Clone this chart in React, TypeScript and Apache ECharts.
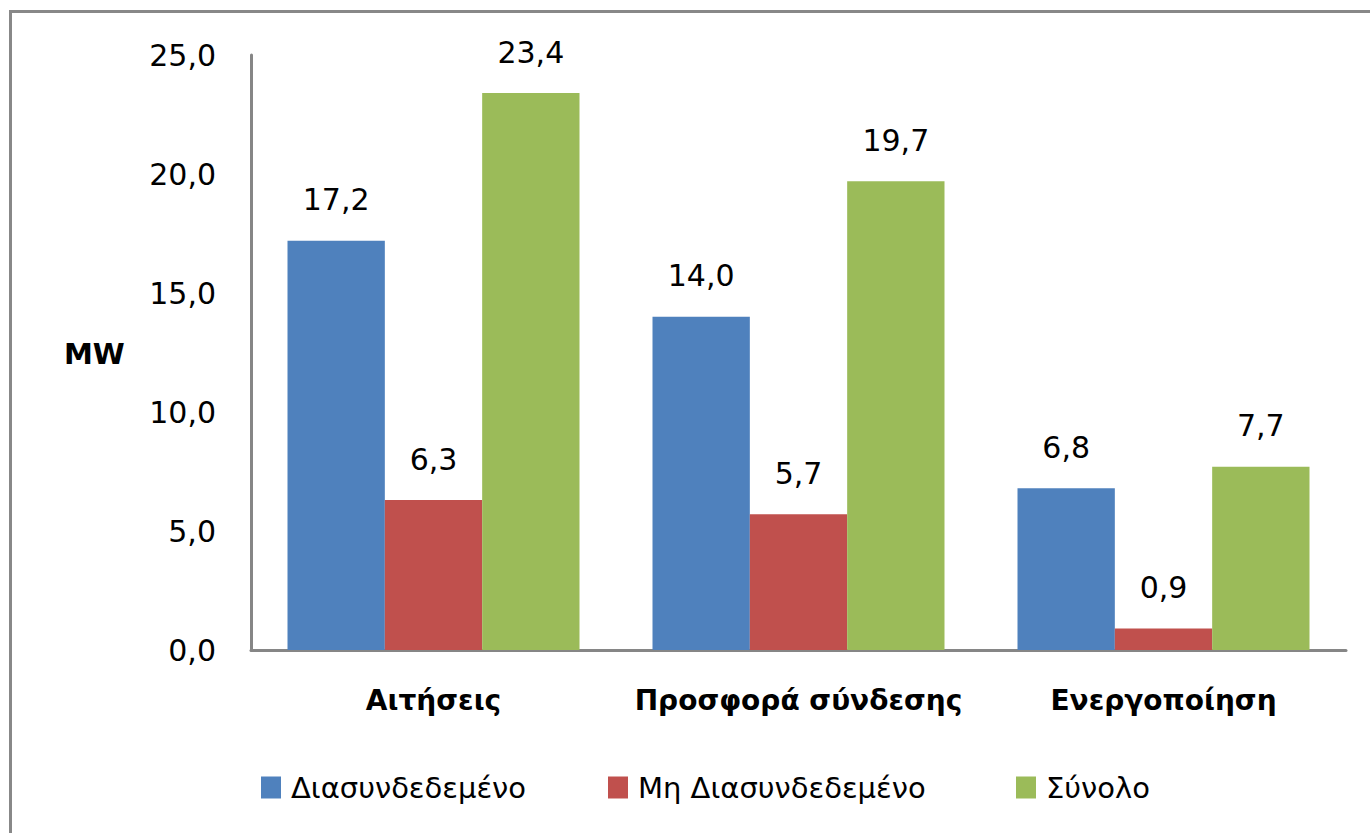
import React, { useEffect, useRef } from "react";
import * as echarts from "echarts";

const categories = ["Αιτήσεις", "Προσφορά σύνδεσης", "Ενεργοποίηση"];
const seriesNames = ["Διασυνδεδεμένο", "Μη Διασυνδεδεμένο", "Σύνολο"];
const connected = [17.2, 14.0, 6.8];
const notConnected = [6.3, 5.7, 0.9];
const total = [23.4, 19.7, 7.7];
const colors = ["#4F81BD", "#C0504D", "#9BBB59"];
const yTicks = { min: 0, max: 25, interval: 5 };

const FONT = "DejaVu Sans";
const fmt = (v: number) => v.toFixed(1).replace(".", ",");
const legendLefts = [256, 603, 1011];

export default function App() {
  const ref = useRef<HTMLDivElement>(null);
  useEffect(() => {
    const chart = echarts.init(ref.current!, undefined, { renderer: "svg" });
    const data = [connected, notConnected, total];
    chart.setOption({
      animation: false,
      textStyle: { fontFamily: FONT },
      graphic: [
        {
          type: "rect",
          shape: { x: 10.5, y: 11.5, width: 1500, height: 1000 },
          style: { fill: "none", stroke: "#888888", lineWidth: 3 },
        },
        {
          type: "text",
          left: 64,
          top: 339,
          style: { text: "MW", font: `bold 29px "${FONT}"`, fill: "#000" },
        },
      ],
      grid: { left: 251, right: 24, top: 55, bottom: 183, containLabel: false },
      legend: seriesNames.map((n, i) => ({
        left: legendLefts[i],
        top: 768,
        itemWidth: 20,
        itemHeight: 22,
        icon: "rect",
        textStyle: { fontFamily: FONT, fontSize: 29, color: "#000", padding: [0, 0, 0, 5] },
        data: [n],
      })),
      xAxis: {
        type: "category",
        data: categories,
        axisLine: { lineStyle: { color: "#868686", width: 3 } },
        axisTick: { show: false },
        axisLabel: {
          interval: 0,
          color: "#000",
          fontFamily: FONT,
          fontSize: 28,
          fontWeight: "bold",
          margin: 36,
        },
      },
      yAxis: {
        type: "value",
        min: yTicks.min,
        max: yTicks.max,
        interval: yTicks.interval,
        axisLine: { show: true, lineStyle: { color: "#868686", width: 3 } },
        axisTick: { show: false },
        splitLine: { show: false },
        axisLabel: {
          color: "#000",
          fontFamily: FONT,
          fontSize: 30,
          margin: 35,
          formatter: (v: number) => fmt(v),
        },
      },
      series: seriesNames.map((name, i) => ({
        name,
        type: "bar",
        data: data[i],
        barGap: "0%",
        barCategoryGap: "20%",
        itemStyle: { color: colors[i] },
        label: {
          show: true,
          position: "top",
          distance: 26,
          color: "#000",
          fontFamily: FONT,
          fontSize: 30,
          formatter: (p: any) => fmt(p.value),
        },
      })),
    });
    return () => chart.dispose();
  }, []);
  return (
    <div
      ref={ref}
      style={{ position: "absolute", left: 0, top: 0, width: 1370, height: 833, background: "#fff" }}
    />
  );
}
